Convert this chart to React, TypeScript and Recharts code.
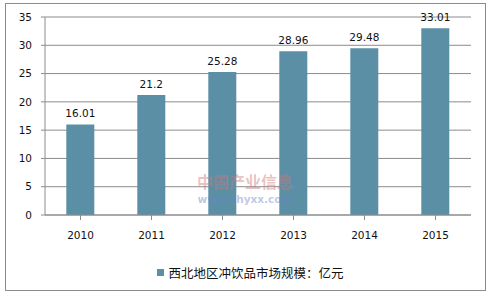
import { BarChart, Bar, XAxis, YAxis, CartesianGrid, Legend, LabelList } from 'recharts'

const years = ['2010', '2011', '2012', '2013', '2014', '2015']
const marketSize = [16.01, 21.2, 25.28, 28.96, 29.48, 33.01]
const yTicks = [0, 5, 10, 15, 20, 25, 30, 35]
const seriesName = '西北地区冲饮品市场规模：亿元'

const data = years.map((year, i) => ({ year, value: marketSize[i] }))

const BAR = '#5b8fa6'
const GRID = '#8c8c8c'
const font = '"DejaVu Sans", Verdana, sans-serif'

function LegendBox() {
  return (
    <div style={{ display: 'flex', alignItems: 'center', justifyContent: 'center', paddingLeft: 10 }}>
      <span style={{ width: 7, height: 7, background: BAR, display: 'inline-block', marginRight: 4 }} />
      <span style={{ fontFamily: '"Noto Sans CJK SC", sans-serif', fontSize: 12.5, color: '#111' }}>{seriesName}</span>
    </div>
  )
}

export default function App() {
  return (
    <div style={{ position: 'fixed', left: 0, top: 0, width: 491, height: 296, background: '#fff' }}>
      <div style={{ position: 'absolute', left: 5, top: 3, width: 479, height: 286, border: '1px solid #8c8c8c' }} />
      <BarChart
        width={491}
        height={296}
        data={data}
        margin={{ top: 17, right: 20, left: 0, bottom: 41 }}
        barCategoryGap="30%"
        style={{ position: 'absolute', left: 0, top: 0 }}
      >
        <CartesianGrid vertical={false} stroke={GRID} strokeWidth={1} />
        <XAxis
          dataKey="year"
          height={40}
          stroke={GRID}
          tickSize={5}
          tickMargin={12}
          tick={{ fontSize: 10.5, fill: '#111', fontFamily: font }}
          interval={0}
        />
        <YAxis
          width={45}
          domain={[0, 35]}
          ticks={yTicks}
          stroke={GRID}
          tickSize={4}
          tickMargin={9}
          tick={{ fontSize: 10.5, fill: '#111', fontFamily: font }}
        />
        <Legend
          verticalAlign="middle"
          align="center"
          layout="horizontal"
          content={() => <LegendBox />}
          wrapperStyle={{ top: 263, left: 0, width: 491 }}
        />
        <Bar dataKey="value" fill={BAR} isAnimationActive={false}>
          <LabelList dataKey="value" position="top" offset={7} style={{ fontSize: 10.5, fill: '#111', fontFamily: font }} />
        </Bar>
      </BarChart>
      {/* watermark sits over the bars */}
      <div style={{ position: 'absolute', left: 183, top: 171, width: 124, textAlign: 'center', pointerEvents: 'none' }}>
        <div style={{ fontFamily: '"Noto Sans CJK SC", sans-serif', fontWeight: 700, fontSize: 16, color: 'rgba(205,120,120,0.45)', lineHeight: '20px', whiteSpace: 'nowrap' }}>中国产业信息</div>
        <div style={{ fontFamily: font, fontWeight: 700, fontSize: 10.5, color: 'rgba(110,130,200,0.45)', lineHeight: '13px', marginTop: 2, whiteSpace: 'nowrap' }}>www.chyxx.com</div>
      </div>
    </div>
  )
}
